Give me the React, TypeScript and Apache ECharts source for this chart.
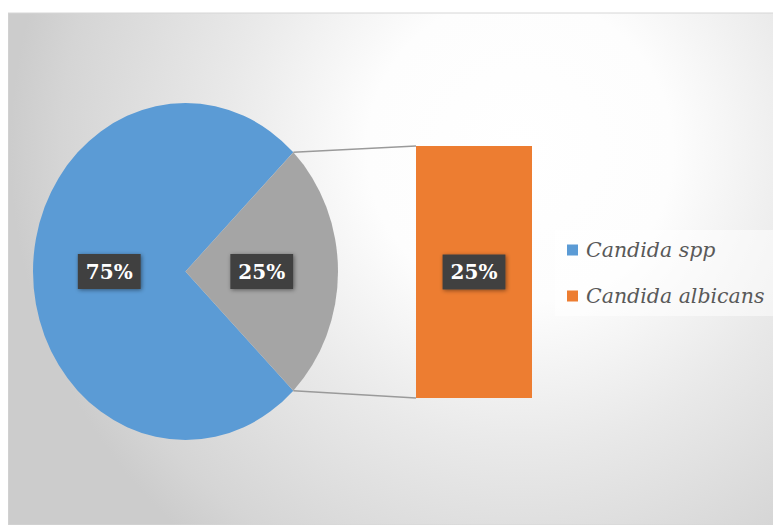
import React, { useEffect, useRef } from "react";
import * as echarts from "echarts";

// ---- data ----
const pieNames = ["Candida spp", "Other"];
const pieValues = [75, 25];
const barCategories = ["Candida albicans"];
const barValues = [25];
const legendNames = ["Candida spp", "Candida albicans"];

// ---- styles / layout ----
const pieColors = ["#5B9BD5", "#A5A5A5"];
const barColor = "#ED7D31";
const CX = 177.5;
const CY = 263.5;
const RX = 152.5;
const RY = 168.5;
const START = Math.PI / 4; // lower-right, clockwise
const GRID_LEFT = 408;
const GRID_TOP = 138;
const GRID_W = 116;
const GRID_H = 252;
const SERIF = "DejaVu Serif";

export default function App() {
  const ref = useRef<HTMLDivElement>(null);

  useEffect(() => {
    if (!ref.current) return;
    const chart = echarts.init(ref.current, null, { renderer: "svg" });
    const total = pieValues.reduce((a, b) => a + b, 0);

    const grayIdx = 1;
    const before = pieValues.slice(0, grayIdx).reduce((a, b) => a + b, 0);
    const g0 = START + (before / total) * Math.PI * 2;
    const g1 = g0 + (pieValues[grayIdx] / total) * Math.PI * 2;
    const p0 = [CX + RX * Math.cos(g0), CY + RY * Math.sin(g0)];
    const p1 = [CX + RX * Math.cos(g1), CY + RY * Math.sin(g1)];
    const upper = p0[1] < p1[1] ? p0 : p1;
    const lower = p0[1] < p1[1] ? p1 : p0;

    const bg = new echarts.graphic.RadialGradient(
      512,
      142,
      510,
      [
        { offset: 0, color: "#ffffff" },
        { offset: 0.3, color: "#fdfdfd" },
        { offset: 0.58, color: "#e9e9e9" },
        { offset: 0.9, color: "#d5d5d5" },
        { offset: 1, color: "#cccccc" },
      ],
      true
    );

    const labelBox = {
      backgroundColor: "#404040",
      padding: [8, 8, 7, 8],
      shadowBlur: 4,
      shadowColor: "rgba(0,0,0,0.45)",
      shadowOffsetX: 1,
      shadowOffsetY: 1,
    };

    chart.setOption({
      animation: false,
      graphic: [
        {
          type: "rect",
          z: -100,
          silent: true,
          shape: { x: 0, y: 5, width: 773, height: 512 },
          style: { fill: bg, stroke: "#d6d6d6", lineWidth: 1 },
        },
        {
          type: "line",
          z: 100,
          silent: true,
          shape: { x1: upper[0], y1: upper[1], x2: GRID_LEFT, y2: GRID_TOP },
          style: { stroke: "#9a9a9a", lineWidth: 1.5 },
        },
        {
          type: "line",
          z: 100,
          silent: true,
          shape: { x1: lower[0], y1: lower[1], x2: GRID_LEFT, y2: GRID_TOP + GRID_H },
          style: { stroke: "#9a9a9a", lineWidth: 1.5 },
        },
      ],
      legend: {
        orient: "vertical",
        left: 547,
        top: 222,
        padding: [10, 14, 10, 12],
        itemGap: 26,
        itemWidth: 11,
        itemHeight: 11,
        icon: "rect",
        backgroundColor: "rgba(255,255,255,0.5)",
        data: legendNames,
        textStyle: {
          fontFamily: SERIF,
          fontStyle: "italic",
          fontSize: 20.5,
          color: "#595959",
          padding: [0, 0, 0, 3],
        },
      },
      grid: { left: GRID_LEFT, top: GRID_TOP, width: GRID_W, height: GRID_H },
      xAxis: { type: "category", data: barCategories, show: false },
      yAxis: { type: "value", min: 0, max: pieValues[grayIdx], show: false },
      series: [
        {
          type: "custom",
          name: pieNames[0],
          coordinateSystem: "none",
          itemStyle: { color: pieColors[0] },
          data: pieValues,
          renderItem: (params: any, api: any) => {
            const i = params.dataIndex;
            const v = api.value(0);
            const b = pieValues.slice(0, i).reduce((a, c) => a + c, 0);
            const a0 = START + (b / total) * Math.PI * 2;
            const a1 = a0 + (v / total) * Math.PI * 2;
            const mid = (a0 + a1) / 2;
            const txt = Math.round((v / total) * 100) + "%";
            return {
              type: "group",
              children: [
                {
                  type: "sector",
                  x: CX,
                  y: CY,
                  scaleX: RX / 100,
                  scaleY: RY / 100,
                  shape: { cx: 0, cy: 0, r0: 0, r: 100, startAngle: a0, endAngle: a1, clockwise: true },
                  style: { fill: pieColors[i] },
                },
                {
                  type: "text",
                  x: CX + RX * 0.5 * Math.cos(mid),
                  y: CY + RY * 0.5 * Math.sin(mid),
                  z2: 20,
                  style: {
                    text: txt,
                    fill: "#ffffff",
                    fontFamily: SERIF,
                    fontWeight: "bold",
                    fontSize: 20,
                    align: "center",
                    verticalAlign: "middle",
                    textAlign: "center",
                    textVerticalAlign: "middle",
                    ...labelBox,
                  },
                },
              ],
            };
          },
        },
        {
          type: "bar",
          name: barCategories[0],
          data: barValues,
          barWidth: "100%",
          itemStyle: { color: barColor },
          label: {
            show: true,
            position: "inside",
            formatter: "{c}%",
            color: "#ffffff",
            fontFamily: SERIF,
            fontWeight: "bold",
            fontSize: 20,
            ...labelBox,
          },
        },
      ],
    });

    return () => chart.dispose();
  }, []);

  return <div ref={ref} style={{ width: 773, height: 517 }} />;
}
